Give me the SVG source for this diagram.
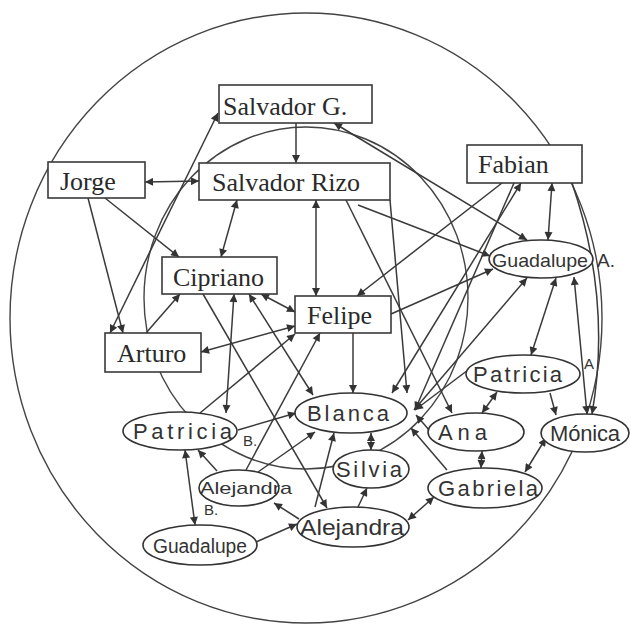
<svg xmlns="http://www.w3.org/2000/svg" width="631" height="626" viewBox="0 0 631 626">
<defs>
<marker id="ah" viewBox="0 0 10 10" refX="10" refY="5" markerUnits="userSpaceOnUse" markerWidth="10" markerHeight="8" orient="auto-start-reverse">
<path d="M0,0 L10,5 L0,10 z" fill="#333"/>
</marker>
<style>
.bg{fill:#fff}
.reg{fill:none;stroke:#444;stroke-width:1.4}
.c{fill:none;stroke:#3a3a3a;stroke-width:1.5}
.e{marker-end:url(#ah)}
.d{marker-start:url(#ah);marker-end:url(#ah)}
.box{fill:#fff;stroke:#3a3a3a;stroke-width:1.6}
.ov{fill:#fff;stroke:#333;stroke-width:1.6}
.bt{font-family:"Liberation Serif","Times New Roman",serif;font-size:26px;fill:#2a2a2a}
.ht{font-family:"Liberation Sans",Arial,sans-serif;font-size:22px;fill:#333}
.sm{font-family:"Liberation Sans",Arial,sans-serif;font-size:15px;fill:#333}
</style>
</defs>
<rect class="bg" x="0" y="0" width="631" height="626"/>
<g id="regions">
<ellipse class="reg" cx="306" cy="318" rx="296" ry="305"/>
<ellipse class="reg" cx="306" cy="298" rx="162" ry="171"/>
</g>
<g id="connectors">
<path class="c e" d="M296 123 L296 163"/>
<path class="c d" d="M145 182 L199 181"/>
<path class="c d" d="M110 333 L218 113"/>
<path class="c e" d="M88 198 L123 333"/>
<path class="c e" d="M105 198 L179 257"/>
<path class="c d" d="M237 200 L221 257"/>
<path class="c d" d="M316 200 L316 296"/>
<path class="c e" d="M146 333 L180 294"/>
<path class="c d" d="M295 326 L201 352"/>
<path class="c d" d="M261 294 L295 312"/>
<path class="c e" d="M353 333 L353 393"/>
<path class="c d" d="M249 294 L313 395"/>
<path class="c e" d="M203 294 L327 508"/>
<path class="c d" d="M234 294 L226 413"/>
<path class="c e" d="M200 413 L295 334"/>
<path class="c e" d="M246 470 L320 333"/>
<path class="c e" d="M238 430 L296 413"/>
<path class="c e" d="M258 472 L315 432"/>
<path class="c e" d="M315 507 L334 433"/>
<path class="c e" d="M299 519 L274 503"/>
<path class="c e" d="M217 471 L198 450"/>
<path class="c d" d="M195 525 L185 450"/>
<path class="c e" d="M256 542 L297 524"/>
<path class="c e" d="M358 507 L367 488"/>
<path class="c d" d="M371 433 L371 450"/>
<path class="c d" d="M408 520 L434 497"/>
<path class="c e" d="M447 470 L411 428"/>
<path class="c d" d="M482 451 L481 468"/>
<path class="c d" d="M525 472 L546 438"/>
<path class="c d" d="M497 392 L482 413"/>
<path class="c e" d="M550 393 L556 415"/>
<path class="c d" d="M556 278 L531 355"/>
<path class="c d" d="M574 277 L587 414"/>
<path class="c e" d="M572 183 Q612 300 592 414"/>
<path class="c d" d="M552 183 L548 240"/>
<path class="c e" d="M502 183 L357 296"/>
<path class="c d" d="M521 183 L392 393"/>
<path class="c e" d="M390 200 L407 393"/>
<path class="c e" d="M346 200 L452 413"/>
<path class="c e" d="M358 205 L490 256"/>
<path class="c d" d="M334 123 L527 240"/>
<path class="c e" d="M391 314 L493 269"/>
<path class="c d" d="M414 410 L527 278"/>
<path class="c e" d="M468 370 L415 410"/>
<path class="c e" d="M514 183 L415 410"/>
<path class="c e" d="M430 431 L416 415"/>
</g>
<g id="salvador-g"><rect class="box" x="219" y="85" width="153" height="38"/><text class="bt" x="223" y="115">Salvador G.</text></g>
<g id="salvador-rizo"><rect class="box" x="199" y="163" width="191" height="37"/><text class="bt" x="212" y="191">Salvador Rizo</text></g>
<g id="jorge"><rect class="box" x="48" y="162" width="97" height="36"/><text class="bt" x="60" y="190">Jorge</text></g>
<g id="fabian"><rect class="box" x="467" y="145" width="115" height="38"/><text class="bt" x="478" y="173">Fabian</text></g>
<g id="cipriano"><rect class="box" x="162" y="257" width="115" height="37"/><text class="bt" x="173" y="286">Cipriano</text></g>
<g id="felipe"><rect class="box" x="295" y="296" width="96" height="37"/><text class="bt" x="307" y="324">Felipe</text></g>
<g id="arturo"><rect class="box" x="105" y="333" width="96" height="39"/><text class="bt" x="117" y="362">Arturo</text></g>
<g id="guadalupe-a"><ellipse class="ov" cx="541" cy="259" rx="52" ry="19"/><text class="ht" x="492" y="267" style="font-size:19px" textLength="96" lengthAdjust="spacingAndGlyphs">Guadalupe</text><text class="ht" x="597" y="267" style="font-size:19px">A.</text></g>
<g id="patricia-a"><ellipse class="ov" cx="523" cy="374" rx="57" ry="19"/><text class="ht" x="473" y="382" textLength="89" lengthAdjust="spacing">Patricia</text><text class="sm" x="584" y="369">A</text></g>
<g id="blanca"><ellipse class="ov" cx="351" cy="413" rx="56" ry="20"/><text class="ht" x="307" y="421" textLength="82" lengthAdjust="spacing">Blanca</text></g>
<g id="ana"><ellipse class="ov" cx="476" cy="432" rx="48" ry="19"/><text class="ht" x="438" y="440" textLength="49" lengthAdjust="spacing">Ana</text></g>
<g id="monica"><ellipse class="ov" cx="585" cy="433" rx="44" ry="19"/><text class="ht" x="550" y="441" textLength="70" lengthAdjust="spacing">Mónica</text></g>
<g id="silvia"><ellipse class="ov" cx="371" cy="469" rx="38" ry="19"/><text class="ht" x="336" y="477" textLength="66" lengthAdjust="spacing">Silvia</text></g>
<g id="gabriela"><ellipse class="ov" cx="485" cy="488" rx="57" ry="20"/><text class="ht" x="438" y="496" textLength="100" lengthAdjust="spacing">Gabriela</text></g>
<g id="alejandra"><ellipse class="ov" cx="353" cy="527" rx="56" ry="20"/><text class="ht" x="300" y="535" textLength="104" lengthAdjust="spacingAndGlyphs">Alejandra</text></g>
<g id="patricia-b"><ellipse class="ov" cx="180" cy="431" rx="57" ry="19"/><text class="ht" x="133" y="439" textLength="99" lengthAdjust="spacing">Patricia</text><text class="sm" x="243" y="446">B.</text></g>
<g id="alejandra-b"><ellipse class="ov" cx="239" cy="488" rx="40" ry="18"/><text class="ht" x="200" y="494" style="font-size:17px" textLength="92" lengthAdjust="spacingAndGlyphs">Alejandra</text><text class="sm" x="204" y="515">B.</text></g>
<g id="guadalupe"><ellipse class="ov" cx="200" cy="545" rx="57" ry="20"/><text class="ht" x="153" y="553" style="font-size:20px" textLength="94" lengthAdjust="spacingAndGlyphs">Guadalupe</text></g>
</svg>
